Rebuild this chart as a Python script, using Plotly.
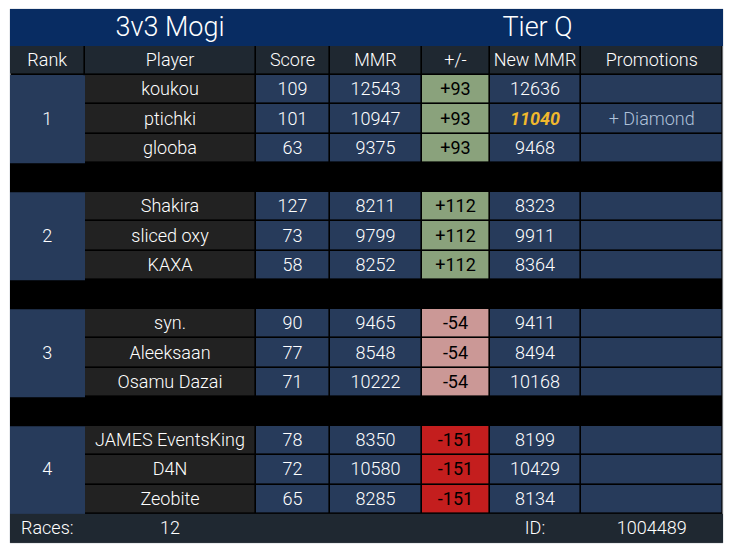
import plotly.graph_objects as go

ranks = ["1", "2", "3", "4"]
players = [["koukou", "ptichki", "glooba"],
           ["Shakira", "sliced oxy", "KAXA"],
           ["syn.", "Aleeksaan", "Osamu Dazai"],
           ["JAMES EventsKing", "D4N", "Zeobite"]]
scores = [[109, 101, 63], [127, 73, 58], [90, 77, 71], [78, 72, 65]]
mmrs = [[12543, 10947, 9375], [8211, 9799, 8252], [9465, 8548, 10222], [8350, 10580, 8285]]
deltas = [93, 112, -54, -151]
new_mmrs = [[12636, 11040, 9468], [8323, 9911, 8364], [9411, 8494, 10168], [8199, 10429, 8134]]
promotions = {(0, 1): "+ Diamond"}
promoted_mmr = {(0, 1)}
headers = ["Rank", "Player", "Score", "MMR", "+/-", "New MMR", "Promotions"]
title_left = "3v3 Mogi"
title_right = "Tier Q"
races = 12
table_id = 1004489

# layout in page pixels
col_edges = [10, 84.5, 255.5, 329.5, 421.5, 489.5, 580.5, 723]
col_mid = [(a + b) / 2 for a, b in zip(col_edges[:-1], col_edges[1:])]
top, title_h, row_h = 9, 37, 29.24
n_rows = 17  # header, 4 groups of 3, 3 spacers, footer
row_edges = [top + title_h + i * row_h for i in range(n_rows + 1)]
row_mid = [(a + b) / 2 + 1 for a, b in zip(row_edges[:-1], row_edges[1:])]
title_mid = [170, 537.5]

# fill codes
BLACK, NAVY, GREY, HEAD, GREEN, PINK, RED, TITLE = range(8)
fills = ["#000000", "#273b5b", "#222222", "#1f2831", "#8aa27c", "#cb9896", "#c41e1e", "#082c62"]
scale = [[i / 7, c] for i, c in enumerate(fills)]


def delta_code(d):
    if d < 0:
        return RED if d < -100 else PINK
    return GREEN


def cells(z, x, y, gap=0):
    return go.Heatmap(z=z, x=x, y=y, zmin=0, zmax=7, colorscale=scale, showscale=False,
                      xgap=gap, ygap=gap, hoverinfo="skip")


# body grid, one row per table row, spacers left black
body = []
body.append([HEAD] * 7)
for g in range(4):
    for _ in range(3):
        body.append([NAVY, GREY, NAVY, NAVY, delta_code(deltas[g]), NAVY, NAVY])
    if g < 3:
        body.append([BLACK] * 7)

rank_z = [[NAVY], [BLACK], [NAVY], [BLACK], [NAVY], [BLACK], [NAVY]]
rank_y = [row_edges[1 + i] for i in (0, 3, 4, 7, 8, 11, 12, 15)]

fig = go.Figure()
fig.add_trace(cells(body, col_edges, row_edges[:-1], gap=1.6))
fig.add_trace(cells(rank_z, col_edges[:2], rank_y))
fig.add_trace(cells([[HEAD]], [10, 723], row_edges[-2:]))
fig.add_trace(cells([[TITLE]], [10, 723], [top, top + title_h]))

FONT = "Roboto"
WHITE = "#ffffff"


def add_text(x, y, text, color=WHITE, size=18, weight=300, style="normal"):
    fig.add_trace(go.Scatter(x=x, y=y, text=text, mode="text", hoverinfo="skip",
                             textposition="middle center",
                             textfont=dict(family=FONT, size=size, color=color,
                                           weight=weight, style=style)))


add_text(title_mid, [top + title_h / 2 + 2] * 2, [title_left, title_right], size=27)
add_text(col_mid, [row_mid[0]] * 7, headers)

row = 1
for g in range(4):
    add_text([col_mid[0]], [row_mid[row + 1]], [ranks[g]])
    for i in range(3):
        y = row_mid[row + i]
        add_text(col_mid[1:4], [y] * 3, [players[g][i], str(scores[g][i]), str(mmrs[g][i])])
        add_text([col_mid[4]], [y], [f"{deltas[g]:+d}"], color="#000000", weight=400)
        if (g, i) in promoted_mmr:
            add_text([col_mid[5]], [y], [str(new_mmrs[g][i])], color="#f1b82d", weight=700, style="italic")
        else:
            add_text([col_mid[5]], [y], [str(new_mmrs[g][i])])
        if (g, i) in promotions:
            add_text([col_mid[6]], [y], [promotions[(g, i)]], color="#b0c2da")
    row += 4

add_text([col_mid[0], col_mid[1], col_mid[5], col_mid[6]], [row_mid[-1]] * 4,
         ["Races:", str(races), "ID:", str(table_id)])

fig.update_layout(width=733, height=552, margin=dict(l=10, r=10, t=9, b=9),
                  paper_bgcolor="white", plot_bgcolor="black", showlegend=False,
                  xaxis=dict(range=[10, 723], visible=False, fixedrange=True),
                  yaxis=dict(range=[543, 9], visible=False, fixedrange=True))
# faint outline around the table
fig.add_shape(type="rect", xref="paper", yref="paper", x0=0, x1=1, y0=0, y1=1,
              line=dict(color="#d3d7dc", width=1), layer="below")

fig.write_html("out.html", config={"displayModeBar": False},
               post_script="document.body.style.margin='0';")
